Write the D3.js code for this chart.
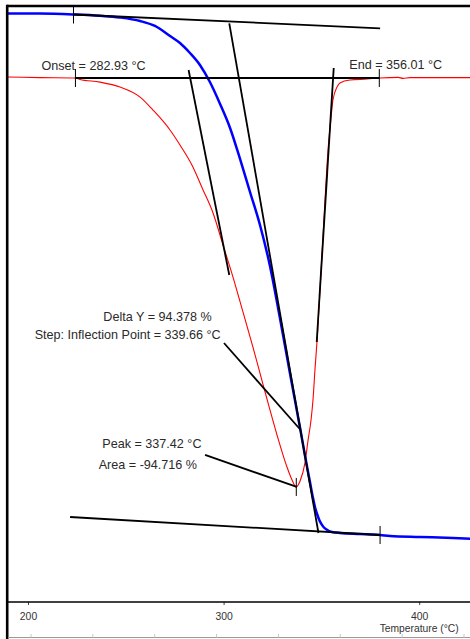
<!DOCTYPE html>
<html>
<head>
<meta charset="utf-8">
<script src="https://cdn.jsdelivr.net/npm/d3@7"></script>
<style>
  html, body { margin: 0; padding: 0; background: #ffffff; }
  svg { display: block; }
  text { font-family: "Liberation Sans", Arial, sans-serif; }
</style>
</head>
<body>
<svg id="chart" width="470" height="639"></svg>
<script>
// ---------------- DATA ----------------
// X axis
const xTicks = [200, 300, 400];
const xLabel = "Temperature (°C)";
// secondary (hidden) axis minor ticks
const minorTicks = [0, 5, 10, 15, 20, 25, 30, 35];

// TGA curve (weight %, blue)
const tgaTemp = [189.8, 206.1, 223.0, 236.8, 247.0, 257.3, 264.9, 272.6, 277.7, 282.8,
  287.9, 293.0, 298.2, 303.3, 308.4, 313.5, 318.6, 323.7, 328.8, 333.9,
  339.1, 341.6, 344.2, 345.7, 346.7, 347.8, 348.8, 349.8, 351.3, 353.4,
  355.4, 359.5, 369.7, 380.0, 385.1, 400.4, 417.3, 426.0];
const tgaWeight = [100.00, 99.98, 99.81, 99.57, 99.25, 98.60, 97.67, 95.80, 94.49, 92.63,
  90.39, 87.21, 83.11, 78.63, 72.84, 66.68, 60.52, 52.87, 43.16, 32.89,
  22.62, 17.49, 12.45, 9.56, 7.88, 6.57, 5.54, 4.80, 4.05, 3.49,
  3.21, 3.02, 2.84, 2.65, 2.46, 2.28, 2.09, 1.96];

// DTG curve (derivative, red)
const dtgTemp = [189.8, 206.1, 224.0, 226.6, 236.8, 247.0, 257.3, 263.9, 272.6, 277.7,
  283.8, 289.5, 294.6, 299.7, 304.8, 309.9, 315.0, 320.1, 323.7, 327.3,
  332.4, 335.0, 337.0, 339.1, 341.6, 343.2, 344.7, 345.7, 346.7, 347.8,
  349.3, 351.3, 353.4, 354.9, 355.9, 358.0, 359.5, 364.6, 373.3, 380.0,
  389.2, 391.7, 395.3, 400.4, 426.0];
const dtgValue = [0.005, 0.002, 0.000, -0.007, -0.020, -0.044, -0.093, -0.156, -0.253, -0.326,
  -0.424, -0.545, -0.657, -0.813, -0.969, -1.139, -1.310, -1.490, -1.616, -1.738,
  -1.894, -1.957, -1.991, -1.962, -1.874, -1.762, -1.665, -1.568, -1.422, -1.276,
  -1.032, -0.691, -0.351, -0.195, -0.107, -0.044, -0.024, -0.010, -0.005, 0.000,
  0.003, -0.002, 0.002, 0.002, 0.002];

// Analysis results
const onsetT = 282.93, endT = 356.01, peakT = 337.42, inflT = 339.66;
const deltaY = 94.378, area = -94.716;

// TGA construction lines [T, weight]
const tgaUpperBase = [[223.0, 99.81], [380.0, 97.24]];
const tgaLowerBase = [[221.5, 6.01], [380.0, 2.65]];
const tgaTangent   = [[302.9, 98.17], [348.5, 3.02]];
const inflLeader   = [[300.2, 38.49], [339.3, 22.30]];
// DTG construction lines [T, value]
const dtgBase      = [[224.0, 0], [379.6, 0]];
const onsetTangent = [[282.1, 0.039], [302.9, -0.959]];
const endTangent   = [[356.3, 0.049], [347.6, -1.285]];
const peakLeader   = [[290.5, -1.835], [peakT, -1.991]];
const peakValue = -1.991;

// ---------------- CHART ----------------
const svg = d3.select("#chart");
const plotLeft = 8, plotTop = 6, plotRight = 470, axisY = 602;

const xScale = d3.scaleLinear().domain([200, 400]).range([28, 419.2]);
const wScale = d3.scaleLinear().domain([100, 0]).range([13.5, 549.2]);
const dScale = d3.scaleLinear().domain([0, -2]).range([78, 488.8]);
const mScale = d3.scaleLinear().domain([0, 35]).range([31, 464]);

svg.append("clipPath").attr("id", "plotclip")
  .append("rect").attr("x", plotLeft).attr("y", plotTop)
  .attr("width", plotRight - plotLeft).attr("height", axisY - plotTop);

const plot = svg.append("g").attr("clip-path", "url(#plotclip)");

// curves
const tgaData = tgaTemp.map((t, i) => [t, tgaWeight[i]]);
const dtgData = dtgTemp.map((t, i) => [t, dtgValue[i]]);

plot.append("path").datum(dtgData)
  .attr("fill", "none").attr("stroke", "#ff0000").attr("stroke-width", 1.1)
  .attr("d", d3.line().x(d => xScale(d[0])).y(d => dScale(d[1])).curve(d3.curveMonotoneX));

plot.append("path").datum(tgaData)
  .attr("fill", "none").attr("stroke", "#0000ff").attr("stroke-width", 2.5)
  .attr("d", d3.line().x(d => xScale(d[0])).y(d => wScale(d[1])).curve(d3.curveMonotoneX));

// construction lines
const lineW = d3.line().x(d => xScale(d[0])).y(d => wScale(d[1]));
const lineD = d3.line().x(d => xScale(d[0])).y(d => dScale(d[1]));

function drawLine(data, gen) {
  plot.append("path").datum(data).attr("fill", "none")
    .attr("stroke", "#000").attr("stroke-width", 1.8).attr("d", gen);
}
drawLine(tgaUpperBase, lineW);
drawLine(tgaLowerBase, lineW);
drawLine(tgaTangent, lineW);
drawLine(inflLeader, lineW);
drawLine(dtgBase, lineD);
drawLine(onsetTangent, lineD);
drawLine(endTangent, lineD);
drawLine(peakLeader, lineD);

// limit ticks
function vtick(x, y) {
  plot.append("line").attr("x1", x).attr("x2", x).attr("y1", y - 9).attr("y2", y + 9)
    .attr("stroke", "#000").attr("stroke-width", 1);
}
vtick(xScale(tgaUpperBase[0][0]) + 0.5, wScale(tgaUpperBase[0][1]));
vtick(xScale(tgaLowerBase[1][0]), wScale(tgaLowerBase[1][1]));
vtick(xScale(dtgBase[0][0]) + 0.5, dScale(0));
vtick(xScale(dtgBase[1][0]), dScale(0));
vtick(xScale(peakT) - 0.5, dScale(peakValue));

// annotation texts
const ann = svg.append("g").attr("fill", "#2a2a2a").attr("font-size", "12.6px");
ann.append("text").attr("x", 41.5).attr("y", 70).text(`Onset = ${onsetT.toFixed(2)} °C`);
ann.append("text").attr("x", 349.3).attr("y", 69).text(`End = ${endT.toFixed(2)} °C`);
ann.append("text").attr("x", 103.3).attr("y", 321).text(`Delta Y = ${deltaY.toFixed(3)} %`);
ann.append("text").attr("x", 34.7).attr("y", 339).text(`Step: Inflection Point = ${inflT.toFixed(2)} °C`);
ann.append("text").attr("x", 102.3).attr("y", 448).text(`Peak = ${peakT.toFixed(2)} °C`);
ann.append("text").attr("x", 98.7).attr("y", 469).text(`Area = ${area.toFixed(3)} %`);

// frame
svg.append("line").attr("x1", plotLeft - 1).attr("x2", plotRight).attr("y1", 6).attr("y2", 6)
  .attr("stroke", "#000").attr("stroke-width", 2.6);
svg.append("line").attr("x1", 7.2).attr("x2", 7.2).attr("y1", 4.7).attr("y2", 639)
  .attr("stroke", "#000").attr("stroke-width", 2.6);

// x axis
const xAxis = d3.axisBottom(xScale).tickValues(xTicks).tickSize(3).tickFormat(d3.format("d"));
const gx = svg.append("g").attr("transform", `translate(0,${axisY})`).call(xAxis);
gx.select(".domain").remove();
gx.selectAll(".tick line").attr("stroke", "#444");
gx.selectAll(".tick text").attr("y", 18).attr("dy", 0)
  .attr("fill", "#333").attr("font-size", "10.4px").attr("font-family", "Liberation Sans, Arial, sans-serif");
svg.append("line").attr("x1", plotLeft).attr("x2", plotRight).attr("y1", axisY).attr("y2", axisY)
  .attr("stroke", "#000").attr("stroke-width", 1.6);
svg.append("text").attr("x", xScale(400)).attr("y", 631.5).attr("text-anchor", "middle")
  .attr("fill", "#333").attr("font-size", "10.3px").text(xLabel);

// bottom secondary axis (minor ticks only)
svg.append("line").attr("x1", plotLeft).attr("x2", plotRight).attr("y1", 637.5).attr("y2", 637.5)
  .attr("stroke", "#9a9a9a").attr("stroke-width", 1);
svg.selectAll(".mtick").data(minorTicks).enter().append("line")
  .attr("x1", d => mScale(d)).attr("x2", d => mScale(d))
  .attr("y1", 634).attr("y2", 637.5)
  .attr("stroke", "#c8c8c8").attr("stroke-width", 1);
</script>
</body>
</html>
